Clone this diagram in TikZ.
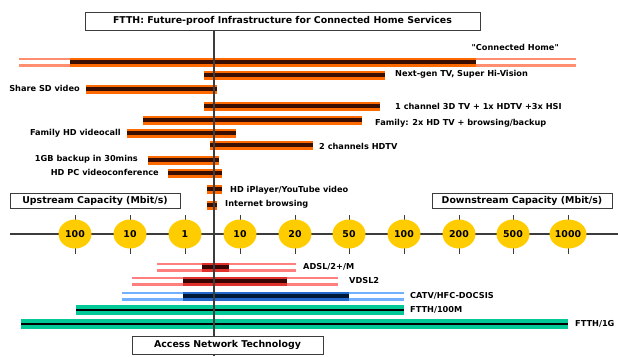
\documentclass[tikz,border=0pt]{standalone}
\usepackage{fontspec}
\setmainfont{DejaVu Sans}
\usetikzlibrary{shapes.geometric}

\definecolor{svcorange}{HTML}{FF6A00}
\definecolor{svcdark}{HTML}{3A0E00}
\definecolor{svcpink}{HTML}{FF8F70}
\definecolor{dslpink}{HTML}{FF7F7F}
\definecolor{dslred}{HTML}{E0302A}
\definecolor{dsldark}{HTML}{3A0505}
\definecolor{catvlight}{HTML}{70B0FF}
\definecolor{catvblue}{HTML}{2468CC}
\definecolor{catvdark}{HTML}{001838}
\definecolor{fttgreen}{HTML}{00C896}
\definecolor{capyellow}{HTML}{FFCC00}
\definecolor{axisgray}{HTML}{3C3C3C}

\tikzset{
  lbl/.style={font=\bfseries\fontsize{8.2}{9}\selectfont, inner sep=1pt},
  headbox/.style={draw=axisgray, line width=1pt, fill=white, inner sep=0pt, font=\bfseries\fontsize{9.4}{10}\selectfont},
  capdot/.style={ellipse, fill=capyellow, minimum width=33pt, minimum height=29pt, inner sep=0pt, font=\bfseries\fontsize{9.4}{10}\selectfont},
  svc/.style={draw=svcorange, double=svcdark, line width=2.3pt, double distance=4.4pt},
  svclight/.style={draw=svcpink, double=white, line width=2.5pt, double distance=4pt},
  dsl/.style={draw=dslred, double=dsldark, line width=2.5pt, double distance=4pt},
  dsllight/.style={draw=dslpink, double=white, line width=2.5pt, double distance=4pt},
  catv/.style={draw=catvblue, double=catvdark, line width=2.5pt, double distance=4pt},
  catvlt/.style={draw=catvlight, double=white, line width=2.5pt, double distance=4pt},
  ftth/.style={draw=fttgreen, double=black, line width=3.3pt, double distance=2.8pt},
}

\begin{document}
\begin{tikzpicture}[x=1pt, y=-1pt]
\useasboundingbox (0,0) rectangle (618,356);
\def\ax{214}
%service bars
\draw[svclight] (19,62) -- (70,62);
\draw[svclight] (476,62) -- (576,62);
\foreach \y/\a/\b in {62/70/476, 75/204/385, 89/86/217, 106/204/380, 120/143/362, 133/127/236, 145/210/313, 160/148/219, 173/168/222, 189/207/222, 205/207/217}
  \draw[svc] (\a,\y) -- (\b,\y);
%service labels
\node[lbl, anchor=east] (home) at (560,47) {\textquotedbl Connected Home\textquotedbl};
\node[lbl, anchor=west] (ngtv) at (394,74) {Next-gen TV, Super Hi-Vision};
\node[lbl, anchor=east] (sdvid) at (81,88) {Share SD video};
\node[lbl, anchor=west] (tv3d) at (394,106) {1 channel 3D TV + 1x HDTV +3x HSI};
\node[lbl, anchor=west] (fam) at (374,123) {Family: 2x HD TV + browsing/backup};
\node[lbl, anchor=east] (famcall) at (122,133) {Family HD videocall};
\node[lbl, anchor=west] (hdtv) at (318,146) {2 channels HDTV};
\node[lbl, anchor=east] (backup) at (139,159) {1GB backup in 30mins};
\node[lbl, anchor=east] (pcconf) at (160,172) {HD PC videoconference};
\node[lbl, anchor=west] (iplayer) at (229,190) {HD iPlayer/YouTube video};
\node[lbl, anchor=west] (browse) at (224,204) {Internet browsing};

%capacity axis
\draw[axisgray, line width=1.6pt] (10,234) -- (618,234);
\foreach \x/\v [count=\i] in {75/100, 130/10, 185/1, 240/10, 295/20, 349/50, 404/100, 459/200, 513/500, 568/1000} {
  \draw[axisgray, line width=0.8pt] (\x,215) -- (\x,254);
  \node[capdot] (c\i) at (\x,234) {\v};
}
\node[headbox, minimum width=170pt, minimum height=15pt] (up) at (95,200.5) {Upstream Capacity (Mbit/s)};
\node[headbox, minimum width=180pt, minimum height=15pt] (down) at (522,200.5) {Downstream Capacity (Mbit/s)};

%access bars
\draw[dsllight] (157,267) -- (296,267);
\draw[dsl] (202,267) -- (229,267);
\draw[dsllight] (132,281) -- (338,281);
\draw[dsl] (183,281) -- (287,281);
\draw[catvlt] (122,296) -- (404,296);
\draw[catv] (183,296) -- (349,296);
\draw[ftth] (76,310) -- (404,310);
\draw[ftth] (21,324) -- (568,324);
%access labels
\node[lbl, anchor=west] (adsl) at (302,267) {ADSL/2+/M};
\node[lbl, anchor=west] (vdsl) at (348,281) {VDSL2};
\node[lbl, anchor=west] (docsis) at (409,296) {CATV/HFC-DOCSIS};
\node[lbl, anchor=west] (f100) at (409,310) {FTTH/100M};
\node[lbl, anchor=west] (f1g) at (574,324) {FTTH/1G};

%centre axis
\draw[axisgray, line width=1.6pt] (\ax,30) -- (\ax,356);
\node[headbox, minimum width=395pt, minimum height=18pt] (title) at (282.5,21) {FTTH: Future-proof Infrastructure for Connected Home Services};
\node[headbox, minimum width=191pt, minimum height=18pt] (tech) at (227.5,345) {Access Network Technology};
\end{tikzpicture}
\end{document}
